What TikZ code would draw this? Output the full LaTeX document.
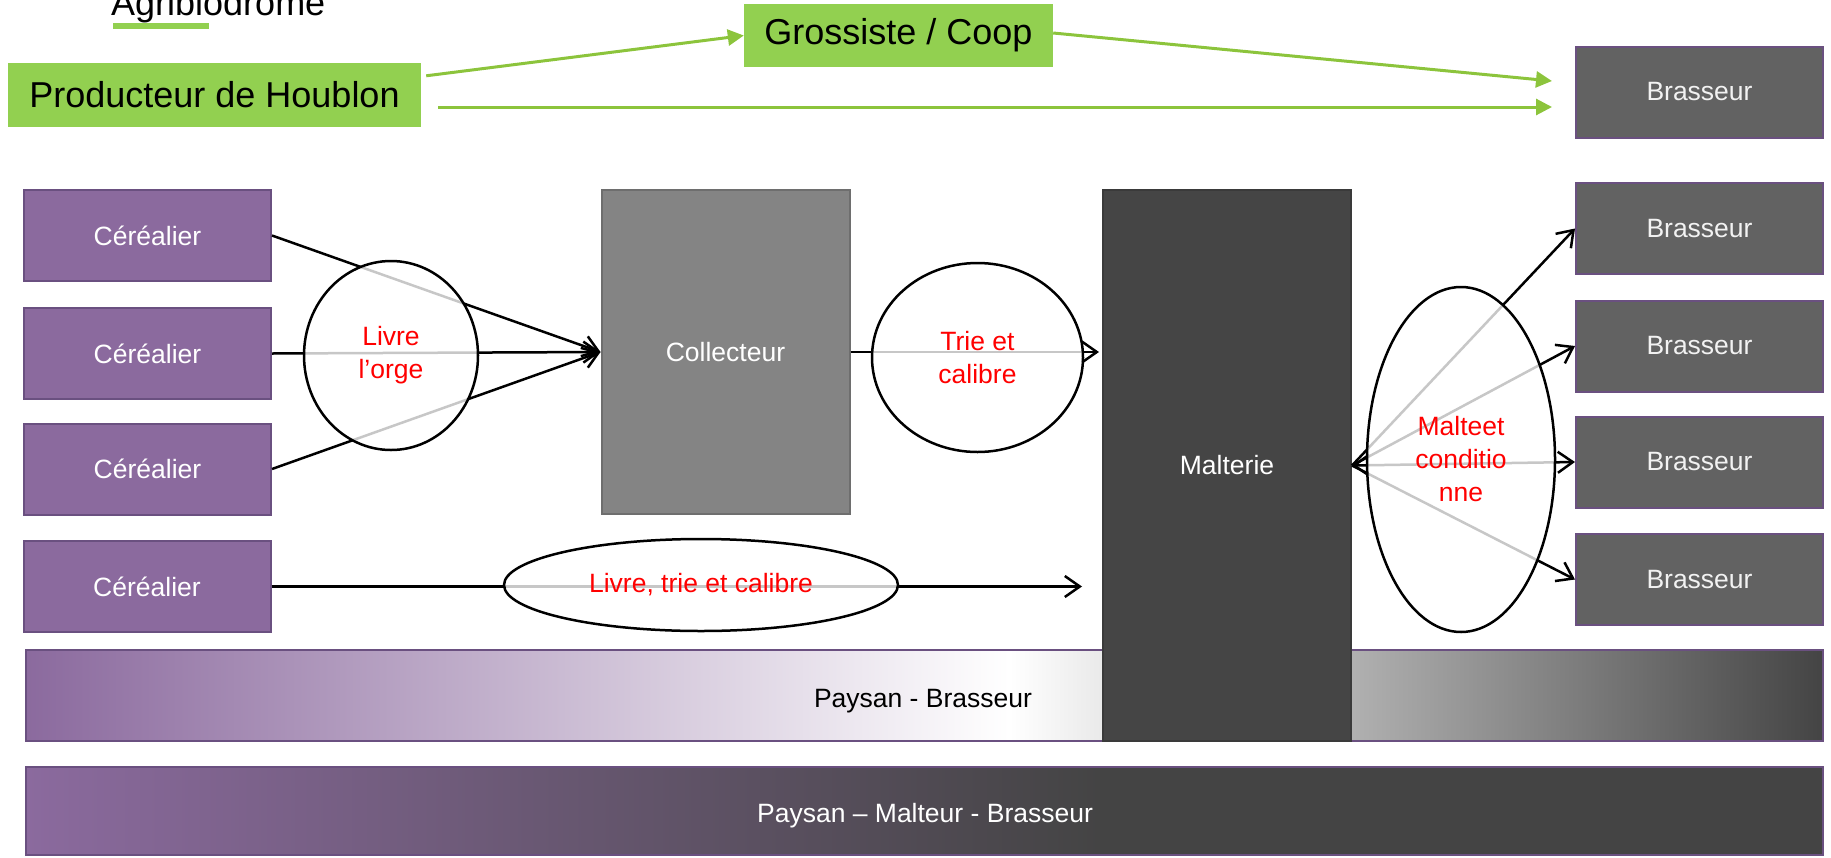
\documentclass[tikz,border=0pt]{standalone}
\usepackage{fontspec}
\setmainfont{Liberation Sans}
\usetikzlibrary{arrows.meta,shapes.geometric}
\definecolor{purp}{HTML}{8B6A9E}
\definecolor{purpdark}{HTML}{6A5080}
\definecolor{gbox}{HTML}{92D050}
\definecolor{gline}{HTML}{8CC43C}
\definecolor{brass}{HTML}{626262}
\definecolor{collf}{HTML}{848484}
\definecolor{collb}{HTML}{6E6E6E}
\definecolor{maltf}{HTML}{454545}
\definecolor{maltb}{HTML}{3A3A3A}
\definecolor{darkg}{HTML}{444444}
\begin{document}
\begin{tikzpicture}[x=1pt,y=-1pt,
  big/.style={font=\fontsize{36}{43}\selectfont},
  txt/.style={font=\fontsize{26.5}{33}\selectfont},
  greenbox/.style={big, fill=gbox, draw=none, inner sep=0pt, text=black},
  cerbox/.style={txt, fill=purp, draw=purpdark, line width=2pt, minimum width=247pt, minimum height=91pt, inner sep=0pt, text=white},
  brbox/.style={txt, fill=brass, draw=purpdark, line width=2pt, minimum width=247pt, minimum height=91pt, inner sep=0pt, text=white!95!black},
  blk/.style={line width=2.5pt, -{Straight Barb[length=15pt,width=21pt]}},
  blkboth/.style={line width=2.5pt, {Straight Barb[length=15pt,width=21pt]}-{Straight Barb[length=15pt,width=21pt]}},
  grn/.style={gline, line width=3pt, -{Triangle[length=16pt,width=16pt]}},
  ell/.style={ellipse, draw=black, line width=2.5pt, fill=white, fill opacity=0.78, text opacity=1, draw opacity=1, text=red, txt, align=center, inner sep=0pt},
  bar/.style={draw=purpdark, line width=2pt}
]
\useasboundingbox (0,0) rectangle (1831,857);

% header
\node[big, anchor=base west, inner sep=0pt] (agri) at (111,15) {Agribiodrome};
\fill[gbox] (113,23) rectangle (209,29);

% green boxes
\node[greenbox, minimum width=413pt, minimum height=64pt] (prod) at (214.5,95) {Producteur de Houblon};
\node[greenbox, minimum width=309pt, minimum height=63pt] (gros) at (898.5,35.5) {Grossiste / Coop};
\node[brbox] (b0) at (1699.5,92) {Brasseur};

\draw[grn] ([xshift=5pt,yshift=-13pt]prod.north east) -- (gros.west);
\draw[grn] ([yshift=2.5pt]gros.east) -- ([xshift=-23pt,yshift=11pt]b0.west);
\draw[grn] ([xshift=17pt,yshift=-12pt]prod.east) -- ([xshift=-23pt,yshift=-15pt]b0.west);

% bar Paysan - Brasseur
\shade[left color=purp, right color=white] (26,650) rectangle (1010,741);
\shade[left color=white, right color=darkg] (1009,650) rectangle (1823,741);
\draw[bar] (26,650) rectangle (1823,741);
\node[txt, anchor=base, text=black, inner sep=0pt] (pb) at (923,707) {Paysan - Brasseur};

% bar Paysan - Malteur - Brasseur
\shade[left color=purp, right color=darkg] (26,767) rectangle (1100,855);
\fill[darkg] (1099,767) rectangle (1823,855);
\draw[bar] (26,767) rectangle (1823,855);
\node[txt, anchor=base, text=white, inner sep=0pt] (pmb) at (925,822) {Paysan -- Malteur - Brasseur};

% producers
\node[cerbox] (c1) at (147.5,235.5) {Céréalier};
\node[cerbox] (c2) at (147.5,353.5) {Céréalier};
\node[cerbox] (c3) at (147.5,469) {Céréalier};
\node[cerbox] (c4) at (147,586.5) {Céréalier};

\node[txt, fill=collf, draw=collb, line width=2pt, minimum width=248pt, minimum height=324pt, inner sep=0pt, text=white] (coll) at (725.5,352) {Collecteur};
\node[txt, fill=maltf, draw=maltb, line width=2pt, minimum width=248pt, minimum height=551pt, inner sep=0pt, text=white] (malt) at (1227,465.5) {Malterie};

\node[brbox] (b1) at (1699.5,228.5) {Brasseur};
\node[brbox] (b2) at (1699.5,346) {Brasseur};
\node[brbox] (b3) at (1699.5,462) {Brasseur};
\node[brbox] (b4) at (1699.5,579.5) {Brasseur};

% connectors
\draw[blk] (c1.east) -- (coll.west);
\draw[blk] (c2.east) -- (coll.west);
\draw[blk] (c3.east) -- (coll.west);
\draw[blk, shorten >=3pt] (coll.east) -- (coll.east -| malt.west);
\draw[blk, shorten >=20pt] (c4.east) -- (c4.east -| malt.west);
\draw[blk] (malt.east) -- (b1.west);
\draw[blk] (malt.east) -- (b2.west);
\draw[blkboth] (malt.east) -- (b3.west);
\draw[blk] (malt.east) -- (b4.west);

% ellipses
\node[ell, minimum width=174pt, minimum height=189pt] (e1) at (391,355.5) {Livre\\l’orge};
\node[ell, minimum width=211pt, minimum height=189pt] (e2) at (977.5,357.5) {Trie et\\calibre};
\node[ell, minimum width=188pt, minimum height=345pt] (e3) at (1461,459.5) {Malteet\\conditio\\nne};
\node[ell, minimum width=394pt, minimum height=92pt] (e4) at (701,585) {Livre, trie et calibre};
\end{tikzpicture}
\end{document}
